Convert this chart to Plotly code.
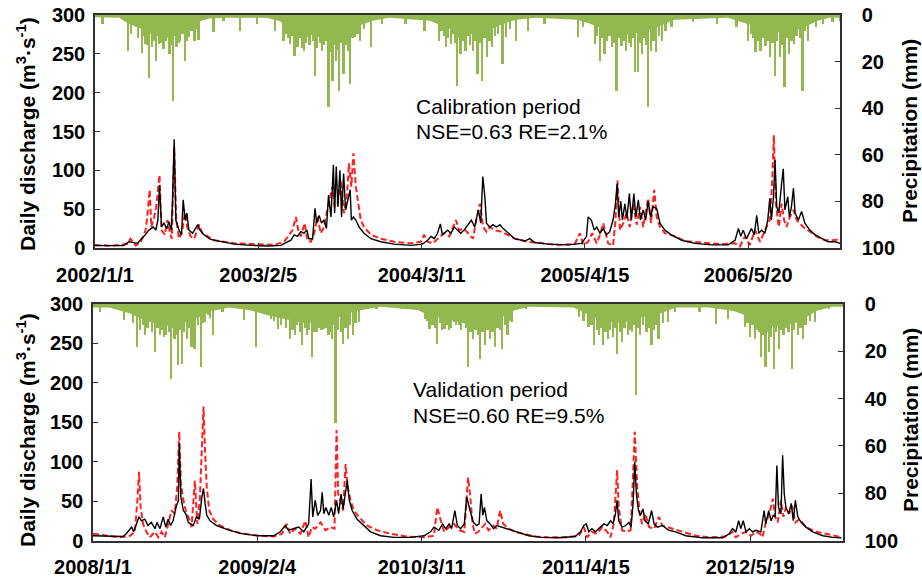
import pandas as pd
import plotly.graph_objects as go

# ---------------- DATA (day offset from period start, value) ----------------
cal_start = "2002-01-01"
val_start = "2008-01-01"
cal_tick_days = [0, 400, 800, 1200, 1600]
cal_tick_text = ["2002/1/1", "2003/2/5", "2004/3/11", "2005/4/15", "2006/5/20"]
val_tick_days = [0, 400, 800, 1200, 1600]
val_tick_text = ["2008/1/1", "2009/2/4", "2010/3/11", "2011/4/15", "2012/5/19"]

cal_obs = [(0,3),(40,2.5),(70,3),(83,8),(104,6),(120,15),(132,23),(143,27),(149,23),(154,36),(158,81),(163,27),(169,32),(176,25),(181,34),(187,23),(190,62),(194,140),(198,36),(206,23),(212,17),(216,62),(221,36),(225,45),(230,23),(239,19),(247,25),(252,30),(257,23),(267,17),(283,11),(308,8),(341,5),(382,3.4),(422,2.5),(455,3.4),(467,7),(480,10),(488,17),(496,15),(504,21),(512,19),(519,23),(524,12),(533,12),(539,51),(543,32),(549,42),(555,32),(561,36),(567,25),(572,68),(578,40),(584,107),(587,45),(591,105),(595,53),(600,100),(604,40),(609,96),(614,49),(620,62),(625,75),(628,36),(633,40),(639,36),(647,27),(659,19),(676,12),(700,8),(733,5),(774,3.4),(802,5),(815,10),(823,15),(831,12),(839,19),(846,31),(851,17),(864,23),(872,19),(880,27),(888,23),(896,19),(904,23),(922,36),(930,27),(939,49),(945,32),(950,92),(955,66),(959,32),(967,27),(975,30),(983,27),(992,30),(1000,25),(1012,19),(1028,12),(1053,9),(1065,12),(1077,7),(1110,5),(1159,4),(1192,6),(1204,15),(1208,40),(1216,36),(1223,23),(1229,27),(1237,19),(1245,25),(1253,17),(1261,21),(1269,36),(1275,57),(1279,83),(1283,40),(1288,60),(1292,36),(1298,57),(1303,38),(1309,70),(1314,36),(1320,70),(1325,40),(1331,62),(1336,36),(1343,49),(1349,36),(1355,60),(1361,40),(1367,53),(1376,51),(1384,32),(1396,23),(1412,17),(1437,10),(1470,6),(1510,4),(1551,4),(1568,10),(1576,25),(1582,15),(1588,23),(1596,12),(1608,25),(1615,17),(1621,42),(1626,19),(1633,23),(1641,19),(1648,36),(1653,64),(1657,36),(1662,66),(1666,113),(1670,53),(1675,45),(1682,83),(1686,102),(1690,49),(1697,66),(1701,40),(1706,53),(1711,77),(1715,45),(1723,36),(1731,47),(1739,32),(1751,23),(1764,17),(1780,12),(1796,8),(1813,8),(1825,6)]

cal_sim = [(0,4),(38,3),(79,5),(87,12),(100,3),(112,8),(124,23),(128,40),(134,75),(138,27),(145,40),(150,53),(158,94),(163,23),(171,17),(177,36),(184,19),(188,12),(194,130),(199,36),(206,12),(214,23),(220,45),(226,27),(234,15),(243,12),(255,30),(263,19),(292,10),(341,6),(390,5),(439,4),(463,8),(475,17),(484,23),(492,40),(498,23),(504,15),(514,32),(520,10),(529,8),(537,19),(545,40),(553,19),(561,27),(569,49),(576,66),(582,79),(587,53),(594,57),(602,88),(610,45),(617,66),(622,109),(628,79),(633,122),(639,79),(645,57),(651,36),(659,27),(676,17),(700,12),(733,8),(774,6),(798,8),(806,17),(815,8),(827,6),(839,12),(855,19),(868,15),(884,36),(892,23),(904,25),(914,19),(926,12),(934,36),(943,57),(951,27),(959,21),(967,27),(979,23),(996,21),(1012,17),(1028,12),(1061,8),(1094,6),(1135,4),(1175,5),(1188,19),(1196,4),(1208,8),(1218,19),(1229,6),(1237,17),(1245,32),(1257,6),(1269,3),(1275,36),(1280,87),(1286,23),(1294,32),(1302,45),(1310,27),(1318,57),(1327,30),(1335,53),(1343,27),(1355,64),(1362,32),(1370,75),(1376,40),(1384,27),(1396,19),(1421,15),(1445,9),(1486,7),(1535,5),(1568,6),(1580,2),(1592,15),(1604,4),(1617,23),(1629,8),(1645,27),(1653,36),(1659,87),(1663,145),(1668,57),(1675,27),(1682,57),(1688,36),(1694,27),(1702,40),(1711,49),(1719,36),(1735,27),(1751,21),(1768,15),(1788,10),(1809,10),(1821,11)]

cal_rain = [(19,3.9),(82,15.6),(97,3.1),(115,16.4),(124,12.4),(133,27),(141,13.9),(150,19.6),(158,12.4),(168,14.6),(174,11),(183,16.7),(191,36.8),(200,13.9),(209,11),(221,19.6),(230,9.6),(244,11),(254,10.7),(291,7.4),(315,2.4),(356,6.7),(397,3.9),(442,6.7),(462,11),(479,12.4),(489,17.5),(497,13.9),(512,15.3),(520,9.6),(540,26),(556,15.3),(573,39.6),(582,28.2),(591,19.6),(599,32.7),(609,25.3),(620,15.3),(626,29.6),(638,9.6),(650,11),(677,13.9),(703,3.9),(761,3.9),(808,6.7),(843,11),(861,13.9),(873,12.4),(887,30.3),(896,16.7),(908,15.3),(926,15.3),(938,25.3),(949,28.2),(961,18.2),(973,13.9),(999,21),(1008,9.6),(1032,11),(1061,6.7),(1102,3.9),(1184,9.6),(1196,5.3),(1225,12.4),(1237,19.6),(1249,16.7),(1267,13.9),(1278,32.5),(1290,13.2),(1302,15.3),(1314,13.9),(1323,24.6),(1331,24.6),(1341,16.7),(1355,39.6),(1363,15.3),(1375,16),(1390,11),(1413,5.3),(1466,3.1),(1525,3.9),(1572,5.3),(1601,11),(1619,16),(1631,15.3),(1643,13.2),(1654,18.2),(1666,26),(1678,18.2),(1690,31),(1701,16.7),(1713,12.4),(1734,32.5),(1748,11),(1766,5.3),(1784,3.9),(1807,3.1),(1825,2.4)]

cal_rain_minor = [(88,8),(106,10),(120,9),(128,13),(137,8),(146,11),(154,9),(163,12),(178,10),(187,13),(196,9),(205,12),(215,8),(226,11),(237,7),(249,6),
                  (467,8),(474,10),(484,9),(493,11),(503,10),(507,14),(517,12),(526,13),(534,11),(545,14),(551,12),(562,13),(568,11),(577,16),(587,13),(595,15),(604,12),(614,13),(631,10),(644,8),(660,6),
                  (849,7),(855,9),(866,10),(878,8),(883,12),(891,10),(902,11),(914,9),(920,13),(932,11),(944,12),(955,10),(967,11),(980,9),(988,8),(1018,6),
                  (1230,9),(1243,10),(1255,11),(1261,9),(1272,12),(1284,10),(1296,11),(1308,12),(1319,10),(1336,12),(1347,10),(1352,13),(1369,11),(1382,9),(1398,7),
                  (1608,8),(1614,10),(1625,11),(1637,10),(1648,11),(1660,12),(1672,11),(1684,13),(1696,10),(1707,11),(1719,9),(1728,10),(1740,7)]

cal_rain_base = [(0,1),(60,1.2),(75,3),(100,5),(130,7),(160,7.5),(190,7),(220,5.5),(250,3),(280,1.5),(320,1.2),(420,1.2),(450,2.5),(470,4.5),(500,7),(530,8.5),(560,10),(600,8.5),(640,5),(680,2.5),(720,1.2),(820,2.5),(850,4.5),(870,6),(900,7),(930,8.5),(960,7),(990,4.5),(1030,2),(1080,1.2),(1180,2),(1210,3.5),(1230,5),(1260,7),(1300,8.5),(1340,7.5),(1380,5),(1420,2),(1550,1.2),(1590,3.5),(1620,5),(1650,7.5),(1700,7.5),(1740,5),(1770,2.5),(1800,1.2),(1826,1.2)]

val_obs = [(0,6),(41,5),(73,5),(81,8.5),(94,17),(99,11),(106,21),(112,30),(118,25),(126,27),(134,19),(142,23),(151,15),(156,23),(163,15),(171,30),(177,17),(183,27),(189,19),(195,25),(202,42),(208,51),(210,123),(214,55),(220,38),(226,34),(232,23),(238,21),(244,19),(252,30),(259,27),(265,55),(269,66),(273,47),(277,32),(285,25),(301,19),(326,14),(358,9),(399,6),(440,6),(456,11),(468,19),(476,13),(488,15),(501,17),(513,11),(525,21),(531,78),(535,30),(541,51),(547,32),(554,38),(558,61),(562,34),(567,42),(574,32),(580,42),(586,30),(593,51),(598,34),(604,59),(609,40),(615,64),(619,76),(624,51),(631,38),(643,27),(659,19),(676,11),(700,6),(733,4),(773,4),(806,6),(822,11),(830,17),(842,13),(851,21),(859,15),(867,21),(873,15),(881,38),(887,19),(895,15),(904,21),(910,55),(918,38),(926,23),(934,19),(940,21),(945,59),(949,32),(953,42),(959,25),(967,21),(975,15),(983,19),(995,17),(1012,15),(1036,11),(1061,6),(1093,4),(1134,3.4),(1174,5),(1187,11),(1195,19),(1201,21),(1207,11),(1215,15),(1223,11),(1236,17),(1244,21),(1252,19),(1260,25),(1266,21),(1272,34),(1276,51),(1280,25),(1288,17),(1297,19),(1305,23),(1310,17),(1315,47),(1319,100),(1323,59),(1328,38),(1333,32),(1339,40),(1344,25),(1352,21),(1360,38),(1366,21),(1374,17),(1386,19),(1402,13),(1419,11),(1443,6),(1484,3.4),(1533,3.4),(1549,8.5),(1557,15),(1565,11),(1572,25),(1577,15),(1583,25),(1590,11),(1598,15),(1606,11),(1614,13),(1626,11),(1634,38),(1638,21),(1645,38),(1651,25),(1656,32),(1661,30),(1665,95),(1669,42),(1675,34),(1679,108),(1683,59),(1687,42),(1694,34),(1700,47),(1705,25),(1710,51),(1716,30),(1724,23),(1736,17),(1752,11),(1777,6),(1801,4),(1822,3.4)]

val_sim = [(0,8.5),(33,6),(65,4),(90,6),(102,11),(108,51),(112,87),(116,42),(122,21),(130,11),(138,4),(151,11),(159,4),(167,11),(175,4),(183,21),(191,38),(199,34),(205,68),(210,138),(214,72),(220,51),(226,38),(234,27),(240,17),(248,76),(254,21),(260,51),(265,110),(269,170),(273,110),(277,68),(283,38),(293,27),(309,19),(334,13),(366,8.5),(407,6),(440,5),(460,8.5),(472,21),(480,8.5),(492,15),(505,8.5),(517,25),(525,4),(533,17),(541,15),(554,23),(566,13),(578,17),(588,15),(593,140),(597,59),(602,51),(609,38),(615,97),(620,68),(627,51),(635,38),(647,30),(667,19),(692,13),(724,8.5),(765,5),(806,4),(830,6),(838,42),(847,25),(855,11),(867,17),(879,21),(891,13),(904,11),(913,80),(918,59),(924,21),(930,8.5),(938,11),(947,17),(955,21),(963,13),(975,19),(983,15),(991,38),(999,21),(1012,15),(1028,11),(1052,8.5),(1077,5),(1109,4),(1150,4),(1183,6),(1195,17),(1203,4),(1215,11),(1227,8.5),(1240,17),(1252,11),(1260,4),(1268,21),(1272,51),(1276,89),(1280,42),(1288,13),(1298,11),(1309,13),(1314,72),(1319,138),(1325,68),(1331,34),(1337,21),(1345,34),(1354,17),(1366,15),(1378,30),(1386,19),(1398,17),(1411,15),(1435,11),(1468,6),(1500,4),(1541,5),(1557,11),(1565,4),(1577,8.5),(1590,11),(1602,6),(1614,11),(1624,8.5),(1630,4),(1637,21),(1647,34),(1655,53),(1661,30),(1667,23),(1675,51),(1681,30),(1687,42),(1695,34),(1702,44),(1710,23),(1720,27),(1736,17),(1761,11),(1785,8.5),(1809,6),(1822,4)]

val_rain = [(18,3.4),(76,6.9),(108,18.2),(127,13.3),(138,7.6),(152,20.3),(164,13.3),(173,14),(190,31.9),(199,14.7),(207,26),(217,25.2),(229,14.7),(240,18.2),(248,18.9),(264,26.6),(272,7.6),(281,4.8),(293,13.3),(316,3.4),(369,6.9),(398,18.2),(434,6.2),(451,10.4),(481,14.7),(492,13.3),(510,17.5),(522,13.3),(533,22.4),(545,11.8),(563,10.4),(574,13.3),(582,14.7),(591,50.4),(609,16.8),(621,14.7),(633,13.3),(648,7.6),(691,2),(750,2),(809,6.2),(820,10.4),(838,16.8),(856,10.4),(867,11.1),(879,7.6),(891,9),(914,26.6),(926,14.7),(943,23.1),(955,17.5),(967,14.7),(979,18.2),(996,18.9),(1010,13.3),(1020,7.6),(1055,2),(1184,5.5),(1207,9.7),(1221,17.5),(1233,13.3),(1242,17.5),(1254,14.7),(1266,14),(1277,21),(1289,16.1),(1303,13.3),(1313,11.8),(1322,38.6),(1333,13.3),(1348,11.8),(1360,17.5),(1377,14.7),(1401,7.6),(1418,3.4),(1477,3.4),(1518,8.3),(1547,6.2),(1588,9.7),(1600,14),(1612,14.7),(1627,22.4),(1638,26.6),(1647,20.3),(1658,27.4),(1670,18.9),(1682,13.3),(1702,27.4),(1717,13.3),(1729,14.7),(1758,7.6),(1793,2)]

val_rain_minor = [(98,8),(115,11),(122,9),(133,10),(145,12),(158,10),(168,11),(179,13),(186,12),(195,10),(203,13),(212,11),(222,12),(235,10),(244,11),(256,9),(268,8),(286,6),
                  (442,7),(458,9),(470,10),(486,11),(498,9),(504,12),(516,10),(527,11),(539,12),(551,10),(557,11),(568,10),(578,12),(587,9),(597,11),(604,12),(615,10),(627,9),(640,8),
                  (815,7),(827,9),(833,10),(845,8),(850,11),(861,9),(873,10),(885,9),(897,11),(908,10),(920,12),(932,11),(938,13),(949,12),(961,11),(973,12),(985,10),(991,11),(1003,9),(1015,7),
                  (1195,7),(1214,9),(1227,11),(1237,10),(1248,12),(1260,11),(1272,10),(1283,12),(1295,10),(1308,11),(1318,9),(1328,10),(1340,9),(1354,10),(1366,11),(1371,9),(1389,8),
                  (1594,8),(1606,9),(1618,11),(1622,12),(1633,13),(1642,12),(1652,14),(1664,12),(1676,11),(1688,10),(1694,12),(1708,11),(1723,10),(1735,9),(1746,7)]

val_rain_base = [(0,1.5),(40,1.5),(90,4),(120,6.5),(150,8),(190,9.5),(230,7.5),(260,5.5),(290,3),(330,1.5),(380,2.5),(430,5),(470,6.5),(510,8),(560,7.5),(600,5.5),(640,3),(700,1.2),(790,2.5),(820,5),(860,6.5),(900,8),(940,9.5),(980,7.5),(1020,3),(1060,1.2),(1170,1.5),(1200,4),(1230,6.5),(1270,8),(1300,7.5),(1340,5.5),(1380,4),(1420,1.5),(1500,1.5),(1560,3),(1600,5.5),(1640,9.5),(1680,9.5),(1720,7.5),(1760,3),(1800,1.2),(1826,1.2)]

# ---------------- STYLE ----------------
W, H = 922, 580
GREEN = "#93B850"
RED = "#FF2020"
FONT = "Liberation Sans"
AX = "#303030"


def to_dates(start, pairs):
    d = [p[0] for p in pairs]
    v = [p[1] for p in pairs]
    return pd.Timestamp(start) + pd.to_timedelta(d, unit="D"), v


fig = go.Figure()

panels = [
    dict(start=cal_start, end="2006-12-31", obs=cal_obs, sim=cal_sim, rain=cal_rain + cal_rain_minor,
         base=cal_rain_base, tdays=cal_tick_days, ttext=cal_tick_text, x="x", yp="y", yq="y2",
         xdom=[95 / W, 840 / W], ydom=[1 - 248 / H, 1 - 15 / H]),
    dict(start=val_start, end="2012-12-31", obs=val_obs, sim=val_sim, rain=val_rain + val_rain_minor,
         base=val_rain_base, tdays=val_tick_days, ttext=val_tick_text, x="x2", yp="y3", yq="y4",
         xdom=[93 / W, 843 / W], ydom=[1 - 540.5 / H, 1 - 304 / H]),
]

layout = dict(width=W, height=H, margin=dict(l=0, r=0, t=0, b=0, autoexpand=False),
              paper_bgcolor="white", plot_bgcolor="white", showlegend=False,
              font=dict(family=FONT, color="black"), bargap=0, barmode="overlay", template="none")

TICKFONT = dict(size=20, weight="bold", family=FONT, color="black")

for i, p in enumerate(panels):
    bx, by = to_dates(p["start"], p["base"])
    fig.add_trace(go.Scatter(x=bx, y=by, mode="lines", line=dict(width=0, color=GREEN),
                             fill="tozeroy", fillcolor=GREEN, xaxis=p["x"], yaxis=p["yp"]))
    rx, ry = to_dates(p["start"], p["rain"])
    fig.add_trace(go.Bar(x=rx, y=ry, width=4.5 * 86400000, marker=dict(color=GREEN, line=dict(width=0)),
                         xaxis=p["x"], yaxis=p["yp"]))
    sx, sy = to_dates(p["start"], p["sim"])
    fig.add_trace(go.Scatter(x=sx, y=sy, mode="lines", line=dict(color=RED, width=2, dash="6px,3px"),
                             xaxis=p["x"], yaxis=p["yq"]))
    ox, oy = to_dates(p["start"], p["obs"])
    fig.add_trace(go.Scatter(x=ox, y=oy, mode="lines", line=dict(color="black", width=1.4),
                             xaxis=p["x"], yaxis=p["yq"]))

    tvals = list(pd.Timestamp(p["start"]) + pd.to_timedelta(p["tdays"], unit="D"))
    xname = "xaxis" if i == 0 else "xaxis2"
    ypname = "yaxis" if i == 0 else "yaxis3"
    yqname = "yaxis2" if i == 0 else "yaxis4"
    layout[xname] = dict(domain=p["xdom"], anchor=p["yp"], type="date", automargin=False,
                         range=[p["start"], p["end"]], tickvals=tvals, ticktext=p["ttext"],
                         ticks="inside", ticklen=5, tickcolor=AX, showgrid=False, zeroline=False,
                         showline=True, mirror=True, linecolor=AX, linewidth=1.5,
                         tickfont=TICKFONT, ticklabelstandoff=8)
    layout[ypname] = dict(domain=p["ydom"], anchor=p["x"], side="right", range=[100, 0], automargin=False,
                          tickvals=[0, 20, 40, 60, 80, 100], ticks="inside", ticklen=5, tickcolor=AX,
                          showgrid=False, zeroline=False, showline=True, linecolor=AX, linewidth=1.5,
                          tickfont=TICKFONT, ticklabelstandoff=16)
    layout[yqname] = dict(overlaying=p["yp"], anchor=p["x"], side="left", range=[0, 300], automargin=False,
                          tickvals=[0, 50, 100, 150, 200, 250, 300], ticks="inside", ticklen=5,
                          tickcolor=AX, showgrid=False, zeroline=False, showline=True, linecolor=AX,
                          linewidth=1.5, tickfont=TICKFONT, ticklabelstandoff=4)

ann = []
def px(xp, yp, text, size=21, bold=False, angle=0, anchor="center"):
    ann.append(dict(x=xp / W, y=1 - yp / H, xref="paper", yref="paper", text=text, showarrow=False,
                    textangle=angle, xanchor=anchor, yanchor="middle",
                    font=dict(size=size, family=FONT, color="black", weight="bold" if bold else "normal")))

qtitle = "Daily discharge (m<sup>3</sup>·s<sup>-1</sup>)"
px(26, 134, qtitle, bold=True, angle=-90)
px(26, 430, qtitle, bold=True, angle=-90)
px(909, 131, "Precipitation (mm)", bold=True, angle=-90)
px(910, 420, "Precipitation (mm)", bold=True, angle=-90)
px(414, 106, "Calibration period", anchor="left")
px(414, 131, "NSE=0.63 RE=2.1%", anchor="left")
px(411, 389, "Validation period", anchor="left")
px(411, 415, "NSE=0.60 RE=9.5%", anchor="left")
layout["annotations"] = ann

fig.update_layout(**layout)
fig.write_html("out.html")
